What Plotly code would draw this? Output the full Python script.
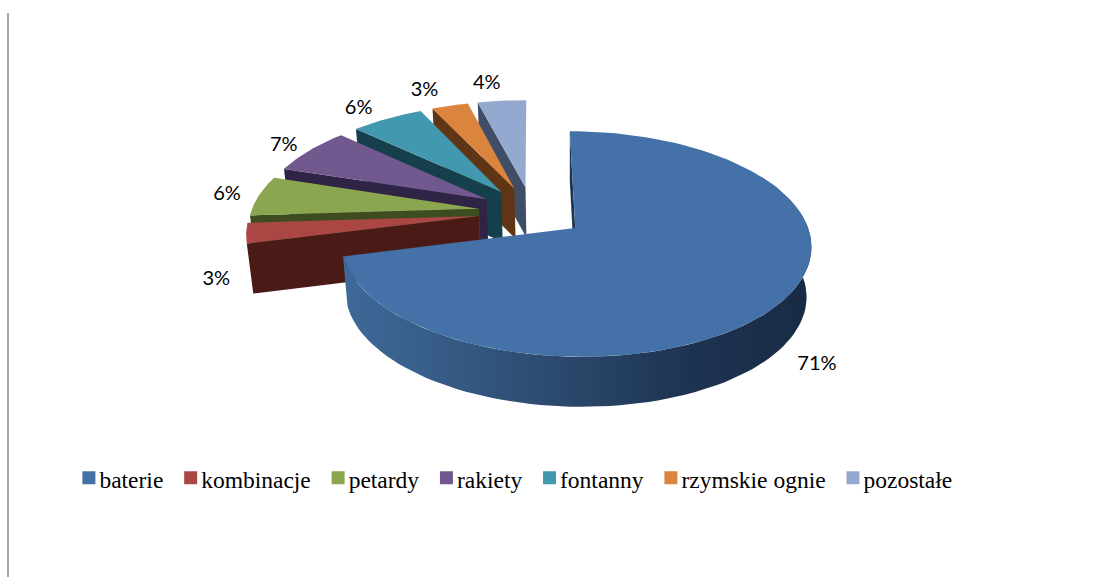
import numpy as np
import plotly.graph_objects as go

categories = ["baterie", "kombinacje", "petardy", "rakiety", "fontanny", "rzymskie ognie", "pozostałe"]
values = [71, 3, 6, 7, 6, 3, 4]
top_colors = ["#4471a7", "#aa4644", "#8aa64e", "#71588f", "#4198af", "#db843d", "#93a9cf"]
wall_colors = ["#2c4a6e", "#4a1a17", "#3d4d1f", "#2f2445", "#163f4c", "#5f3515", "#3f4d66"]
label_factor = [1.2, 1.1, 1.1, 1.1, 1.1, 1.15, 1.15]
label_nudge = [(-10, 46), (-6, 45), (-10, 0), (-9, 0), (-18, -3), (-17, -4), (-12, -5)]

CX, CY, RX, RY, K = 532, 212, 228, 106, 0.14
EX, EY, DEPTH = 0.235, 0.24, 50


def project(u, v):
    w = 1 + K * np.asarray(v, dtype=float)
    return CX + RX * np.asarray(u, dtype=float) / w, CY - RY * np.asarray(v, dtype=float) / w


def extrude(x, y):
    return x + (570 - x) * 0.02, y + DEPTH


fractions = np.array(values, dtype=float) / sum(values)
ends = np.cumsum(fractions) * 2 * np.pi
starts = ends - fractions * 2 * np.pi
mids = (starts + ends) / 2

fig = go.Figure()


def poly(x, y, color, gradient=None):
    kw = dict(fillgradient=gradient) if gradient else dict(fillcolor=color)
    fig.add_trace(go.Scatter(x=np.asarray(x), y=np.asarray(y), mode="lines", fill="toself",
                             line=dict(width=0), hoverinfo="skip", showlegend=False, **kw))


for i in [6, 5, 4, 3, 2, 1, 0]:
    ax, av = EX * np.sin(mids[i]), EY * np.cos(mids[i])
    t = np.linspace(starts[i], ends[i], 120 if i == 0 else 24)
    ru, rv = ax + np.sin(t), av + np.cos(t)
    rx, ry = project(ru, rv)
    apx, apy = project(ax, av)
    # radial wall on the start edge
    x0, y0 = rx[0], ry[0]
    xb0, yb0 = extrude(x0, y0)
    xba, yba = extrude(apx, apy)
    poly([x0, apx, xba, xb0, x0], [y0, apy, yba, yb0, y0], wall_colors[i] if i else "#1d3552")
    if i == 0:
        vis = t > np.radians(60)
        bx, by = extrude(rx[vis], ry[vis])
        poly(np.r_[rx[vis], bx[::-1], rx[vis][0]], np.r_[ry[vis], by[::-1], ry[vis][0]], None,
             gradient=dict(type="horizontal",
                           colorscale=[[0, "#3f6998"], [0.15, "#38608c"], [0.45, "#2c4a6e"], [0.75, "#1d3350"], [1, "#182b44"]]))
    poly(np.r_[apx, rx, apx], np.r_[apy, ry, apy], top_colors[i])

lx, ly, lt = [], [], []
for i, v in enumerate(values):
    ax, av = EX * np.sin(mids[i]), EY * np.cos(mids[i])
    f = label_factor[i]
    x, y = project(ax + f * np.sin(mids[i]), av + f * np.cos(mids[i]))
    lx.append(float(x) + label_nudge[i][0])
    ly.append(float(y) + label_nudge[i][1])
    lt.append(f"{v}%")
fig.add_trace(go.Scatter(x=lx, y=ly, mode="text", text=lt, textposition="middle center",
                         textfont=dict(family="Lato", size=20, color="#000000"),
                         hoverinfo="skip", showlegend=False))

for name, color in zip(categories, top_colors):
    fig.add_trace(go.Scatter(x=[None], y=[None], mode="markers", name=name + "\u2004",
                             marker=dict(symbol="square", size=13, color=color)))

fig.update_layout(
    width=1094, height=577, margin=dict(l=0, r=0, t=0, b=0),
    paper_bgcolor="white", plot_bgcolor="white",
    xaxis=dict(range=[0, 1094], visible=False, fixedrange=True),
    yaxis=dict(range=[577, 0], visible=False, fixedrange=True),
    legend=dict(orientation="h", x=0.0680, xanchor="left", y=1 - 479 / 577, yanchor="middle",
                font=dict(family="Liberation Serif", size=23.5, color="#000000"),
                itemwidth=30, indentation=-15, traceorder="normal", bgcolor="rgba(0,0,0,0)"),
    shapes=[dict(type="line", xref="x", yref="y", x0=8, x1=8, y0=13, y1=577,
                 line=dict(color="#a6a6a6", width=2))],
)
post = """
document.body.style.margin='0';document.body.style.overflow='hidden';
document.querySelectorAll('.legend .legendsymbols').forEach(function(g){
  g.setAttribute('transform','translate(9.5,-1)');
});
"""
fig.write_html("out.html", config=dict(displayModeBar=False), post_script=post)
